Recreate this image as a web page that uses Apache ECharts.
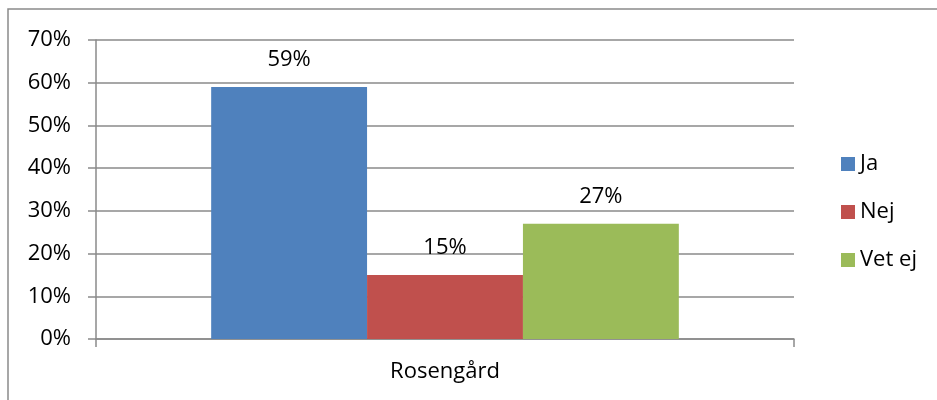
<!DOCTYPE html>
<html>
<head>
<meta charset="utf-8">
<script src="https://cdn.jsdelivr.net/npm/echarts@6/dist/echarts.min.js"></script>
<style>html,body{margin:0;padding:0;background:#fff;}#c{width:937px;height:400px;}</style>
</head>
<body>
<div id="c"></div>
<script>
var categories = ['Rosengård'];
var seriesNames = ['Ja', 'Nej', 'Vet ej'];
var jaValues = [59];
var nejValues = [15];
var vetEjValues = [27];
var colors = ['#4F81BD', '#C0504D', '#9BBB59'];

var font = 'Open Sans';
var chart = echarts.init(document.getElementById('c'), null, {renderer: 'canvas'});
var dataSets = [jaValues, nejValues, vetEjValues];
var series = seriesNames.map(function (n, i) {
  return {
    name: n,
    type: 'bar',
    data: dataSets[i],
    barGap: '0%',
    barCategoryGap: '33%',
    itemStyle: {color: colors[i]},
    label: {
      show: true,
      position: 'top',
      distance: 16,
      formatter: '{c}%',
      color: '#000',
      fontFamily: font,
      fontSize: 22,
      lineHeight: 22
    }
  };
});
chart.setOption({
  animation: false,
  backgroundColor: '#fff',
  textStyle: {fontFamily: font},
  graphic: [{
    type: 'rect',
    shape: {x: 8, y: 9, width: 940, height: 400},
    style: {fill: 'none', stroke: '#8a8a8a', lineWidth: 1.5},
    silent: true
  }],
  grid: {left: 96, right: 143, top: 40, bottom: 61, containLabel: false},
  legend: {
    orient: 'vertical',
    left: 836,
    top: 148,
    itemWidth: 14,
    itemHeight: 14,
    itemGap: 26,
    icon: 'rect',
    textStyle: {fontFamily: font, fontSize: 22, color: '#000', lineHeight: 22},
    data: seriesNames
  },
  xAxis: {
    type: 'category',
    data: categories,
    boundaryGap: true,
    axisLine: {lineStyle: {color: '#8a8a8a', width: 1.5}},
    axisTick: {show: true, length: 8, lineStyle: {color: '#8a8a8a', width: 1.5}},
    axisLabel: {color: '#000', fontFamily: font, fontSize: 22, margin: 22}
  },
  yAxis: {
    type: 'value',
    min: 0,
    max: 70,
    interval: 10,
    axisLine: {show: true, lineStyle: {color: '#8a8a8a', width: 1.5}},
    axisTick: {show: true, length: 8, lineStyle: {color: '#8a8a8a', width: 1.5}},
    axisLabel: {color: '#000', fontFamily: font, fontSize: 22, margin: 25, formatter: '{value}%'},
    splitLine: {show: true, lineStyle: {color: '#8a8a8a', width: 1.5}}
  },
  series: series
});
</script>
</body>
</html>
